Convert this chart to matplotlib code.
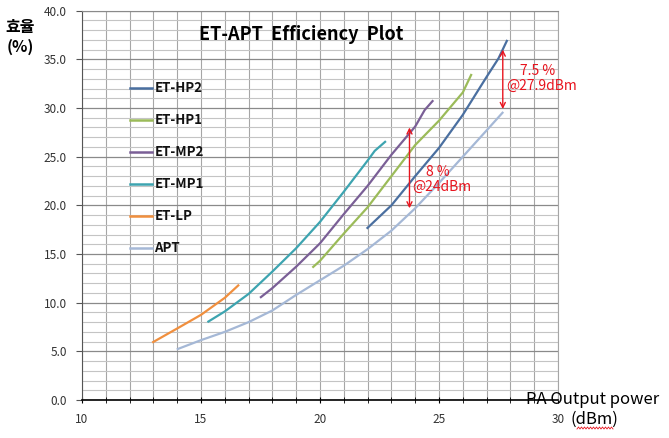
import matplotlib
matplotlib.use("Agg")
import matplotlib.pyplot as plt
from matplotlib.ticker import MultipleLocator, FormatStrFormatter
import numpy as np

plt.rcParams['font.family'] = ['Noto Sans CJK KR', 'DejaVu Sans']

# ---- data ----
hp2_x = [21.96, 23, 24, 25, 26, 27, 27.5, 27.87]
hp2_y = [17.6, 20.0, 23.0, 25.9, 29.3, 33.2, 35.1, 37.0]

hp1_x = [19.68, 20, 21, 22, 23, 24, 25, 26, 26.37]
hp1_y = [13.6, 14.3, 17.1, 19.8, 23.0, 26.2, 28.7, 31.6, 33.5]

mp2_x = [17.48, 18, 19, 20, 21, 22, 23, 24, 24.4, 24.76]
mp2_y = [10.5, 11.5, 13.7, 16.1, 19.1, 22.0, 25.2, 28.1, 29.8, 30.8]

mp1_x = [15.27, 16, 17, 18, 19, 20, 21, 22, 22.3, 22.77]
mp1_y = [8.0, 9.1, 10.9, 13.2, 15.6, 18.3, 21.4, 24.6, 25.6, 26.6]

lp_x = [12.95, 14, 15, 16, 16.6]
lp_y = [5.9, 7.35, 8.75, 10.5, 11.85]

apt_x = [13.98, 15, 16, 17, 18, 19, 20, 21, 22, 23, 24, 25, 26, 27, 27.7]
apt_y = [5.2, 6.15, 7.0, 8.0, 9.2, 10.8, 12.3, 13.8, 15.5, 17.4, 19.7, 22.3, 25.0, 27.7, 29.6]

series_names = ["ET-HP2", "ET-HP1", "ET-MP2", "ET-MP1", "ET-LP", "APT"]
series_x = [hp2_x, hp1_x, mp2_x, mp1_x, lp_x, apt_x]
series_y = [hp2_y, hp1_y, mp2_y, mp1_y, lp_y, apt_y]
colors = ["#4A6FA0", "#9BBB59", "#7A5F96", "#3DA4B0", "#F08F3E", "#A5B8D6"]

# annotations
arrow1_x, arrow1_lo, arrow1_hi = 23.76, 19.7, 28.0
arrow2_x, arrow2_lo, arrow2_hi = 27.68, 29.9, 36.0
ann1_text = ["8 %", "@24dBm"]
ann2_text = ["7.5 %", "@27.9dBm"]

title = "ET-APT  Efficiency  Plot"

# ---- figure ----
fig = plt.figure(figsize=(6.69, 4.38), dpi=100)
ax = fig.add_axes([82/669, 1-400/438, 476/669, 389.3/438])
ax.set_xlim(10, 30)
ax.set_ylim(0, 40)

# grid
ax.xaxis.set_major_locator(MultipleLocator(5))
ax.xaxis.set_minor_locator(MultipleLocator(1))
ax.yaxis.set_major_locator(MultipleLocator(5))
ax.yaxis.set_minor_locator(MultipleLocator(1))
ax.grid(which='minor', axis='y', color='#c4c4c4', lw=0.8)
ax.grid(which='major', axis='y', color='#8a8a8a', lw=0.9)
ax.grid(which='both', axis='x', color='#a6a6a6', lw=0.8)
ax.set_axisbelow(True)

for s in ['top', 'right']:
    ax.spines[s].set_color('#a6a6a6')
    ax.spines[s].set_linewidth(0.8)
ax.spines['top'].set_color('#8a8a8a')
ax.spines['left'].set_color('#555555')
ax.spines['bottom'].set_color('black')
ax.spines['bottom'].set_linewidth(1.2)

ax.yaxis.set_major_formatter(FormatStrFormatter('%.1f'))
ax.tick_params(axis='y', which='major', length=4, direction='out', color='#555555',
               labelsize=8.5, labelcolor='#333333', pad=7)
ax.tick_params(axis='y', which='minor', length=0)
ax.tick_params(axis='x', which='both', length=5, direction='inout', color='black',
               labelsize=8.5, labelcolor='#333333', pad=7)

lines = []
for name, xs, ys, c in zip(series_names, series_x, series_y, colors):
    ln, = ax.plot(xs, ys, color=c, lw=1.6, label=name, solid_capstyle='butt')
    lines.append(ln)

# manual legend (inside plot, left)
for i, (ln, name) in enumerate(zip(lines, series_names)):
    yy = 0.8014 - i * 0.0822
    ax.plot([0.101, 0.147], [yy, yy], transform=ax.transAxes, color=ln.get_color(), lw=1.8)
    ax.text(0.152, yy, name, transform=ax.transAxes, va='center', ha='left',
            fontsize=9.5, fontweight='bold', color='#111111')

# title inside the plot
ax.text(0.46, 0.9376, title, transform=ax.transAxes, ha='center', va='center',
        fontsize=13, fontweight='bold', color='black')

# red arrows
red = '#E8141E'
for xa, lo, hi in [(arrow1_x, arrow1_lo, arrow1_hi), (arrow2_x, arrow2_lo, arrow2_hi)]:
    ax.annotate('', xy=(xa, hi), xytext=(xa, lo),
                arrowprops=dict(arrowstyle='<->', color=red, lw=1.0, mutation_scale=9,
                                shrinkA=0, shrinkB=0))

ax.text(24.95, 23.4, ann1_text[0], color=red, fontsize=10, ha='center', va='center')
ax.text(25.1, 21.9, ann1_text[1], color=red, fontsize=10, ha='center', va='center')
ax.text(29.15, 33.8, ann2_text[0], color=red, fontsize=10, ha='center', va='center', clip_on=False)
ax.text(29.3, 32.3, ann2_text[1], color=red, fontsize=10, ha='center', va='center', clip_on=False)

# axis labels
fig.text(20/669, 1-27/438, "효율", ha='center', va='center', fontsize=11.5, fontweight='bold')
fig.text(20/669, 1-47/438, "(%)", ha='center', va='center', fontsize=11.5, fontweight='bold')
fig.text(593/669, 1-399/438, "PA Output power", ha='center', va='center', fontsize=12)
fig.text(594/669, 1-419/438, "(dBm)", ha='center', va='center', fontsize=12)

# red wavy underline (spellcheck style) under "dBm"
wx = np.linspace(577, 613, 25)
wy = 428 + 1.0 * np.where(np.arange(25) % 2 == 0, 1, -1)
fig.add_artist(plt.Line2D(wx/669, 1-wy/438, color=red, lw=0.6, transform=fig.transFigure))

fig.savefig("out.png", dpi=100)
